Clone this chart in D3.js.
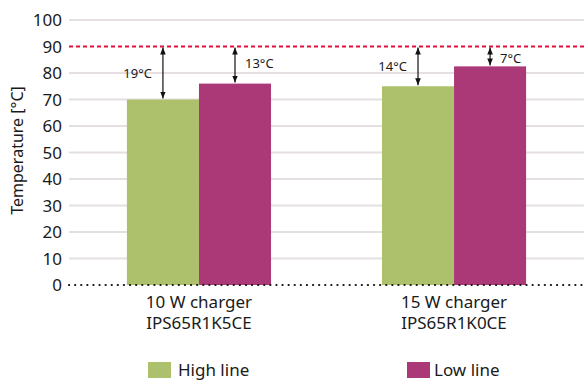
<!DOCTYPE html>
<html>
<head>
<meta charset="utf-8">
<script src="https://cdn.jsdelivr.net/npm/d3@7"></script>
<style>
body { margin: 0; background: #fff; }
text { font-family: "Noto Sans", sans-serif; fill: #1a1a1a; }
</style>
</head>
<body>
<div id="chart-area"></div>
<script>
// chart data
var groups = ["10 W charger\nIPS65R1K5CE", "15 W charger\nIPS65R1K0CE"];
var series = ["High line", "Low line"];
var highLine = [70, 75];
var lowLine = [76, 82.5];
var deltaLabels = [["19°C", "14°C"], ["13°C", "7°C"]];
var yTicks = [0, 10, 20, 30, 40, 50, 60, 70, 80, 90, 100];
var limit = 90;
var colors = ["#adc06c", "#ab3978"];

var W = 584, H = 383;
var margin = {left: 69, top: 20, right: 0, bottom: 98};
var width = W - margin.left - margin.right;
var height = H - margin.top - margin.bottom;

var svg = d3.select("#chart-area").append("svg")
    .attr("width", W).attr("height", H);
var g = svg.append("g")
    .attr("transform", "translate(" + margin.left + "," + margin.top + ")");

var y = d3.scaleLinear().domain([0, 100]).range([height, 0]);
var x0 = d3.scaleBand().domain(groups).range([0, width]).paddingInner(0.435).paddingOuter(0.227);
var x1 = d3.scaleBand().domain(series).range([0, x0.bandwidth()]);

// gridlines
g.selectAll(".grid").data(yTicks.filter(function(d){ return d > 0 && d != limit; }))
  .enter().append("line")
    .attr("x1", 0).attr("x2", width)
    .attr("y1", function(d){ return y(d); }).attr("y2", function(d){ return y(d); })
    .attr("stroke", "#e5dfe2").attr("stroke-width", 2);

// y tick labels
g.selectAll(".ytick").data(yTicks).enter().append("text")
    .attr("x", -7).attr("y", function(d){ return y(d); })
    .attr("dy", "0.36em")
    .attr("text-anchor", "end")
    .attr("font-size", "17px")
    .text(function(d){ return d; });

// y axis title
g.append("text")
    .attr("transform", "rotate(-90)")
    .attr("x", -height / 2 + 2).attr("y", -46)
    .attr("text-anchor", "middle")
    .attr("font-size", "16px")
    .text("Temperature [°C]");

// bars
var vals = [highLine, lowLine];
groups.forEach(function(grp, i) {
  series.forEach(function(s, j) {
    g.append("rect")
      .attr("x", x0(grp) + x1(s))
      .attr("y", y(vals[j][i]))
      .attr("width", x1.bandwidth())
      .attr("height", height - y(vals[j][i]))
      .attr("fill", colors[j]);
  });
});

// limit line
g.append("line")
    .attr("x1", 0).attr("x2", width)
    .attr("y1", y(limit)).attr("y2", y(limit))
    .attr("stroke", "#e0103c").attr("stroke-width", 2)
    .attr("stroke-dasharray", "4,3");

// zero line (dotted)
g.append("line")
    .attr("x1", 0).attr("x2", width)
    .attr("y1", y(0)).attr("y2", y(0))
    .attr("stroke", "#111").attr("stroke-width", 2.2)
    .attr("stroke-linecap", "round")
    .attr("stroke-dasharray", "0.1,6");

// arrows
var defs = svg.append("defs");
defs.append("marker").attr("id", "ah")
    .attr("viewBox", "0 0 10 10").attr("refX", 10).attr("refY", 5)
    .attr("markerWidth", 7).attr("markerHeight", 7)
    .attr("markerUnits", "userSpaceOnUse")
    .attr("orient", "auto-start-reverse")
  .append("path").attr("d", "M0,1 L10,5 L0,9 Z").attr("fill", "#111");

groups.forEach(function(grp, i) {
  series.forEach(function(s, j) {
    var cx = x0(grp) + x1(s) + x1.bandwidth() / 2;
    var top = y(limit) + 1, bot = y(vals[j][i]) - 1;
    g.append("line")
      .attr("x1", cx).attr("x2", cx).attr("y1", top).attr("y2", bot)
      .attr("stroke", "#111").attr("stroke-width", 1.2)
      .attr("marker-start", "url(#ah)").attr("marker-end", "url(#ah)");
    var left = (j == 0);
    g.append("text")
      .attr("x", left ? cx - 11 : cx + 10)
      .attr("y", j == 0 ? (top + bot) / 2 : y(limit) + 12 + (i == 0 ? 5 : 0))
      .attr("dy", "0.36em")
      .attr("text-anchor", left ? "end" : "start")
      .attr("font-size", "13px")
      .text(deltaLabels[j][i]);
  });
});

// x labels
groups.forEach(function(grp) {
  var lines = grp.split("\n");
  var t = g.append("text")
    .attr("x", x0(grp) + x0.bandwidth() / 2)
    .attr("y", height + 23)
    .attr("text-anchor", "middle")
    .attr("font-size", "17px");
  lines.forEach(function(l, k) {
    t.append("tspan").attr("x", x0(grp) + x0.bandwidth() / 2)
      .attr("dy", k == 0 ? 0 : 21).text(l);
  });
});

// legend
var legX = [148, 407];
series.forEach(function(s, j) {
  svg.append("rect").attr("x", legX[j]).attr("y", 362)
    .attr("width", 23).attr("height", 16).attr("fill", colors[j]);
  svg.append("text").attr("x", legX[j] + (j == 0 ? 30 : 27)).attr("y", 370)
    .attr("dy", "0.36em").attr("font-size", "17px").text(s);
});
</script>
</body>
</html>
